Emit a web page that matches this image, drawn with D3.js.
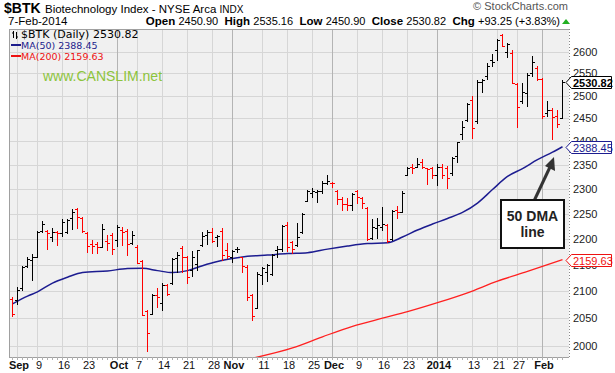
<!DOCTYPE html>
<html>
<head>
<meta charset="utf-8">
<script src="https://d3js.org/d3.v7.min.js"></script>
<style>
  body { margin: 0; background: #fff; }
  svg { display: block; font-family: "Liberation Sans", Arial, sans-serif; }
</style>
</head>
<body>
<script>
// trading days on the chart, 30-Aug-2013 .. 7-Feb-2014
var holidays = ["2013-09-02", "2013-11-28", "2013-12-25", "2014-01-01", "2014-01-20"];
var fmt = d3.timeFormat("%Y-%m-%d");
var days = d3.timeDay.range(new Date(2013, 7, 30), new Date(2014, 1, 8))
  .filter(function (d) { return d.getDay() > 0 && d.getDay() < 6; })
  .map(fmt)
  .filter(function (d) { return holidays.indexOf(d) < 0; });

// daily OHLC, one value per trading day
var open = [2086, 2083, 2105, 2147, 2159, 2165, 2216, 2216, 2204, 2213, 2211, 2214, 2241, 2259, 2241, 2212, 2190, 2190, 2185, 2196, 2208,
  2198, 2217, 2216, 2191, 2185, 2157, 2063, 2058, 2092, 2077, 2111, 2116, 2162, 2183, 2164, 2140, 2152, 2188, 2207, 2214, 2204, 2215, 2178,
  2165, 2180, 2164, 2146, 2092, 2069, 2130, 2136, 2133, 2178, 2181, 2227, 2194, 2188, 2214, 2276, 2291, 2293, 2295, 2313,
  2313, 2297, 2279, 2270, 2268, 2295, 2281, 2261, 2201, 2221, 2224, 2227, 2199, 2257, 2254, 2329, 2345, 2346, 2357, 2343, 2343,
  2329, 2346, 2344, 2333, 2369, 2415, 2446, 2490, 2443, 2531, 2543, 2581, 2604, 2639, 2598, 2596, 2526, 2487, 2505, 2550, 2562,
  2537, 2461, 2468, 2455, 2450.90];
var high = [2088, 2107, 2147, 2164, 2170, 2215, 2235, 2217, 2221, 2215, 2239, 2239, 2259, 2261, 2243, 2214, 2198, 2194, 2229, 2208, 2211,
  2227, 2224, 2219, 2216, 2188, 2159, 2065, 2094, 2105, 2116, 2114, 2162, 2175, 2186, 2166, 2176, 2179, 2214, 2217, 2221, 2207, 2221, 2191,
  2179, 2185, 2165, 2149, 2094, 2136, 2146, 2152, 2170, 2186, 2227, 2233, 2196, 2231, 2252, 2298, 2303, 2298, 2317, 2329,
  2315, 2298, 2284, 2281, 2291, 2299, 2284, 2263, 2239, 2241, 2263, 2229, 2257, 2265, 2295, 2346, 2351, 2364, 2362, 2344, 2346,
  2351, 2351, 2348, 2367, 2399, 2444, 2483, 2498, 2535, 2537, 2573, 2595, 2629, 2642, 2621, 2604, 2528, 2528, 2550, 2590, 2566,
  2539, 2489, 2472, 2468, 2535.16];
var low = [2054, 2076, 2102, 2145, 2121, 2164, 2213, 2181, 2196, 2189, 2206, 2211, 2219, 2222, 2214, 2175, 2172, 2173, 2185, 2178, 2170,
  2186, 2188, 2169, 2190, 2154, 2055, 1991, 2057, 2071, 2065, 2092, 2114, 2136, 2136, 2116, 2128, 2140, 2186, 2190, 2194, 2186, 2159, 2162,
  2156, 2175, 2136, 2084, 2047, 2068, 2114, 2119, 2130, 2164, 2177, 2177, 2173, 2186, 2211, 2276, 2284, 2274, 2291, 2310,
  2305, 2270, 2257, 2257, 2257, 2272, 2261, 2198, 2199, 2201, 2217, 2194, 2198, 2241, 2253, 2329, 2334, 2345, 2343, 2310, 2322,
  2308, 2322, 2303, 2330, 2356, 2405, 2444, 2408, 2440, 2509, 2537, 2567, 2581, 2613, 2587, 2528, 2430, 2483, 2476, 2543, 2535,
  2450, 2455, 2404, 2430, 2450.90];
var close = [2057, 2102, 2145, 2160, 2164, 2214, 2230, 2212, 2214, 2211, 2234, 2237, 2254, 2243, 2216, 2187, 2186, 2185, 2219, 2191, 2180,
  2224, 2214, 2190, 2208, 2154, 2055, 2022, 2092, 2088, 2111, 2094, 2160, 2168, 2164, 2127, 2164, 2178, 2206, 2214, 2196, 2206, 2168, 2166,
  2177, 2181, 2147, 2088, 2054, 2133, 2143, 2150, 2168, 2181, 2225, 2185, 2181, 2204, 2249, 2295, 2296, 2297, 2313, 2317,
  2312, 2280, 2270, 2268, 2289, 2284, 2272, 2199, 2224, 2227, 2229, 2196, 2255, 2254, 2291, 2344, 2343, 2353, 2345, 2341, 2329,
  2346, 2329, 2322, 2365, 2398, 2432, 2481, 2429, 2531, 2535, 2567, 2575, 2627, 2614, 2617, 2529, 2474, 2507, 2547, 2577, 2537,
  2455, 2468, 2452, 2437.57, 2530.82];
var priorClose = 2075;

// moving averages
var ma50Days = ["2013-08-30", "2013-09-05", "2013-09-09", "2013-09-12", "2013-09-17", "2013-09-20", "2013-09-27", "2013-10-03",
  "2013-10-08", "2013-10-11", "2013-10-16", "2013-10-21", "2013-10-24", "2013-10-29", "2013-11-01", "2013-11-06", "2013-11-12",
  "2013-11-18", "2013-11-22", "2013-11-29", "2013-12-05", "2013-12-11", "2013-12-17", "2013-12-20", "2013-12-26", "2013-12-31",
  "2014-01-06", "2014-01-09", "2014-01-14", "2014-01-17", "2014-01-23", "2014-01-28", "2014-01-31", "2014-02-05", "2014-02-07"];
var ma50 = [2076, 2090.5, 2098.5, 2115, 2126, 2135, 2138, 2142.5, 2143, 2138.6, 2134.8, 2138.6, 2148, 2156, 2161.7, 2166, 2168.5,
  2171.4, 2173, 2180, 2186, 2190.8, 2192.4, 2203.6, 2217.4, 2229.3, 2240.3, 2252.5, 2271.5, 2299, 2326, 2342.3, 2361, 2377, 2388.45];
var ma200Days = ["2013-11-06", "2013-11-19", "2013-11-27", "2013-12-06", "2013-12-16", "2013-12-23", "2014-01-02", "2014-01-10",
  "2014-01-21", "2014-01-29", "2014-02-07"];
var ma200 = [1976, 1996, 2016, 2035, 2049.7, 2061.7, 2078.3, 2096.7, 2118.5, 2137, 2159.63];

// axis ticks
var yTicks = [2000, 2050, 2100, 2150, 2200, 2250, 2300, 2350, 2400, 2450, 2500, 2550, 2600];
var tickDays = ["2013-09-03", "2013-09-09", "2013-09-16", "2013-09-23", "2013-10-01", "2013-10-07", "2013-10-14", "2013-10-21",
  "2013-10-28", "2013-11-01", "2013-11-11", "2013-11-18", "2013-11-25", "2013-12-02", "2013-12-09", "2013-12-16", "2013-12-23",
  "2014-01-02", "2014-01-13", "2014-01-21", "2014-01-27", "2014-02-03"];
var tickLabels = ["Sep", "9", "16", "23", "Oct", "7", "14", "21", "28", "Nov", "11", "18", "25", "Dec", "9", "16", "23",
  "2014", "13", "21", "27", "Feb"];
var monthTicks = ["Sep", "Oct", "Nov", "Dec", "2014", "Feb"];

var W = 615, H = 373;
var pL = 9, pR = 569, pT = 29, pB = 357;

var svg = d3.select("body").append("svg")
  .attr("width", W)
  .attr("height", H);

var x = d3.scalePoint().domain(days).range([12.5, 562.5]);
var y = d3.scaleLog().domain([1980, 2653]).range([pB, pT]);
function cy(v) { return Math.round(y(v)) + 0.5; }

// header
svg.append("text").attr("x", 4).attr("y", 13)
  .style("font-size", "14px").style("font-weight", "bold").text("$BTK");
var t1 = svg.append("text").attr("x", 45).attr("y", 13).style("font-size", "11.5px");
t1.append("tspan").text("Biotechnology Index - NYSE Arca ");
t1.append("tspan").style("font-size", "10px").text("INDX");
svg.append("text").attr("x", 568).attr("y", 10).attr("text-anchor", "end")
  .style("font-size", "11px").style("fill", "#555").text("\u00a9 StockCharts.com");
svg.append("text").attr("x", 8).attr("y", 25).style("font-size", "11.5px").text("7-Feb-2014");

var quote = [["Open", "2450.90"], ["High", "2535.16"], ["Low", "2450.90"], ["Close", "2530.82"], ["Chg", "+93.25 (+3.83%)"]];
var t2 = svg.append("text").attr("x", 560).attr("y", 25).attr("text-anchor", "end")
  .attr("xml:space", "preserve").style("font-size", "11px");
quote.forEach(function (q, i) {
  t2.append("tspan").style("font-weight", "bold").style("font-size", "11.5px").text((i ? "  " : "") + q[0] + " ");
  t2.append("tspan").text(q[1]);
});
svg.append("path").attr("d", "M562,24 L566,19 L570,24 Z").attr("fill", "#22b022");

// plot area
svg.append("rect").attr("x", pL).attr("y", pT)
  .attr("width", pR - pL).attr("height", pB - pT)
  .attr("fill", "#f0f0f0");

svg.append("clipPath").attr("id", "plot").append("rect")
  .attr("x", pL).attr("y", pT).attr("width", pR - pL).attr("height", pB - pT);

var grid = svg.append("g").attr("shape-rendering", "crispEdges");
grid.selectAll(".hg").data(yTicks).enter().append("line")
  .attr("x1", pL).attr("x2", pR)
  .attr("y1", cy).attr("y2", cy)
  .attr("stroke", "#d6d6d6");
grid.selectAll(".vg").data(tickDays).enter().append("line")
  .attr("x1", function (d) { return x(d); }).attr("x2", function (d) { return x(d); })
  .attr("y1", pT).attr("y2", pB)
  .attr("stroke", function (d, i) { return monthTicks.indexOf(tickLabels[i]) >= 0 && i > 0 ? "#b4b4b4" : "#d6d6d6"; });

// frame
var frame = svg.append("g").attr("shape-rendering", "crispEdges");
frame.append("line").attr("x1", pL + 0.5).attr("x2", pL + 0.5).attr("y1", pT).attr("y2", pB + 1).attr("stroke", "#a0a0a0");
frame.append("line").attr("x1", pL).attr("x2", pR).attr("y1", pT + 0.5).attr("y2", pT + 0.5).attr("stroke", "#a0a0a0");
frame.append("line").attr("x1", pL).attr("x2", pR).attr("y1", pB + 0.5).attr("y2", pB + 0.5).attr("stroke", "#a0a0a0");
frame.append("line").attr("x1", pR + 0.5).attr("x2", pR + 0.5).attr("y1", pT).attr("y2", pB + 1)
  .attr("stroke", "#8a8a8a").attr("stroke-dasharray", "1,2");
frame.selectAll(".dt").data(days).enter().append("line")
  .attr("x1", function (d) { return x(d); }).attr("x2", function (d) { return x(d); })
  .attr("y1", pB).attr("y2", pB + 3).attr("stroke", "#b0b0b0");

// watermark and legend
svg.append("text").attr("x", 43).attr("y", 81)
  .style("font-size", "14px").style("fill", "#8cc43c").text("www.CANSLIM.net");

var leg = svg.append("g").style("font-family", "'DejaVu Sans', Verdana, sans-serif");
leg.append("path").attr("d", "M13.5,31 V38 M12,33 H13.5 M16.5,32 V39 M16.5,37 H18")
  .attr("stroke", "#000").attr("fill", "none");
leg.append("text").attr("x", 21).attr("y", 38).style("font-size", "11px").text("$BTK (Daily) 2530.82");
leg.append("line").attr("x1", 11).attr("x2", 21).attr("y1", 45).attr("y2", 45).attr("stroke", "#1c1c8c").attr("stroke-width", 2);
leg.append("text").attr("x", 21).attr("y", 49).style("font-size", "9.5px").style("fill", "#1c1c8c").text("MA(50) 2388.45");
leg.append("line").attr("x1", 11).attr("x2", 21).attr("y1", 56).attr("y2", 56).attr("stroke", "#ee1111").attr("stroke-width", 2);
leg.append("text").attr("x", 21).attr("y", 60).style("font-size", "9.5px").style("fill", "#ee1111").text("MA(200) 2159.63");

// moving averages
var plot = svg.append("g").attr("clip-path", "url(#plot)");
var line = d3.line().curve(d3.curveMonotoneX)
  .x(function (d) { return x(d[0]); })
  .y(function (d) { return y(d[1]); });
plot.append("path").datum(d3.zip(ma200Days, ma200)).attr("d", line)
  .attr("fill", "none").attr("stroke", "#ff2020").attr("stroke-width", 1.3);
plot.append("path").datum(d3.zip(ma50Days, ma50)).attr("d", line)
  .attr("fill", "none").attr("stroke", "#1c1c90").attr("stroke-width", 1.5);

// OHLC bars
var bars = days.map(function (d, i) {
  return { day: d, o: open[i], h: high[i], l: low[i], c: close[i], prev: i ? close[i - 1] : priorClose };
});
var bg = plot.append("g").attr("shape-rendering", "crispEdges");
var bar = bg.selectAll("g").data(bars).enter().append("g")
  .attr("stroke", function (d) { return d.c >= d.prev ? "#000" : "#ff0000"; });
bar.append("line")
  .attr("x1", function (d) { return x(d.day); }).attr("x2", function (d) { return x(d.day); })
  .attr("y1", function (d) { return Math.round(y(d.h)); })
  .attr("y2", function (d) { return Math.round(y(d.l)) + 1; });
bar.append("line")
  .attr("x1", function (d) { return x(d.day) - 2.5; }).attr("x2", function (d) { return x(d.day); })
  .attr("y1", function (d) { return cy(d.o); }).attr("y2", function (d) { return cy(d.o); });
bar.append("line")
  .attr("x1", function (d) { return x(d.day); }).attr("x2", function (d) { return x(d.day) + 2.5; })
  .attr("y1", function (d) { return cy(d.c); }).attr("y2", function (d) { return cy(d.c); });

// y axis labels
svg.selectAll(".yl").data(yTicks).enter().append("text")
  .attr("x", 573).attr("y", function (d) { return y(d) + 4; })
  .style("font-size", "11px").style("fill", "#222").text(function (d) { return d; });

// x axis labels
svg.selectAll(".xl").data(tickDays).enter().append("text")
  .attr("x", function (d) { return x(d) + 1.5; }).attr("y", 369)
  .attr("text-anchor", "middle")
  .style("font-size", "11px")
  .style("font-weight", function (d, i) { return monthTicks.indexOf(tickLabels[i]) >= 0 ? "bold" : "normal"; })
  .style("fill", "#111")
  .text(function (d, i) { return tickLabels[i]; });

// value flags on the right
var flags = [
  { v: close[close.length - 1], col: "#000", bold: true },
  { v: ma50[ma50.length - 1], col: "#1c1c90", bold: false },
  { v: ma200[ma200.length - 1], col: "#ee1111", bold: false }
];
var fl = svg.selectAll(".flag").data(flags).enter().append("g");
fl.append("path")
  .attr("d", function (d) {
    var c = Math.round(y(d.v)) + 0.5;
    return "M566," + c + " L571.5," + (c - 6) + " H611.5 V" + (c + 6) + " H571.5 Z";
  })
  .attr("fill", "#fff").attr("stroke", function (d) { return d.col; });
fl.append("text")
  .attr("x", 573).attr("y", function (d) { return Math.round(y(d.v)) + 4.5; })
  .style("font-size", "11px")
  .style("font-weight", function (d) { return d.bold ? "bold" : "normal"; })
  .style("fill", function (d) { return d.col; })
  .text(function (d) { return d3.format(".2f")(d.v); });

// annotation
var ann = svg.append("g");
ann.append("line").attr("x1", 534).attr("y1", 201).attr("x2", 550).attr("y2", 167)
  .attr("stroke", "#333").attr("stroke-width", 3);
ann.append("path").attr("d", "M554,157 L555,171 L545,166 Z").attr("fill", "#333");
ann.append("rect").attr("x", 501).attr("y", 200).attr("width", 63).attr("height", 48)
  .attr("fill", "#fff").attr("stroke", "#111").attr("stroke-width", 2);
ann.append("text").attr("x", 532.5).attr("y", 221).attr("text-anchor", "middle")
  .style("font-size", "14px").style("font-weight", "bold").style("fill", "#222").text("50 DMA");
ann.append("text").attr("x", 532.5).attr("y", 237).attr("text-anchor", "middle")
  .style("font-size", "14px").style("font-weight", "bold").style("fill", "#222").text("line");
</script>
</body>
</html>
